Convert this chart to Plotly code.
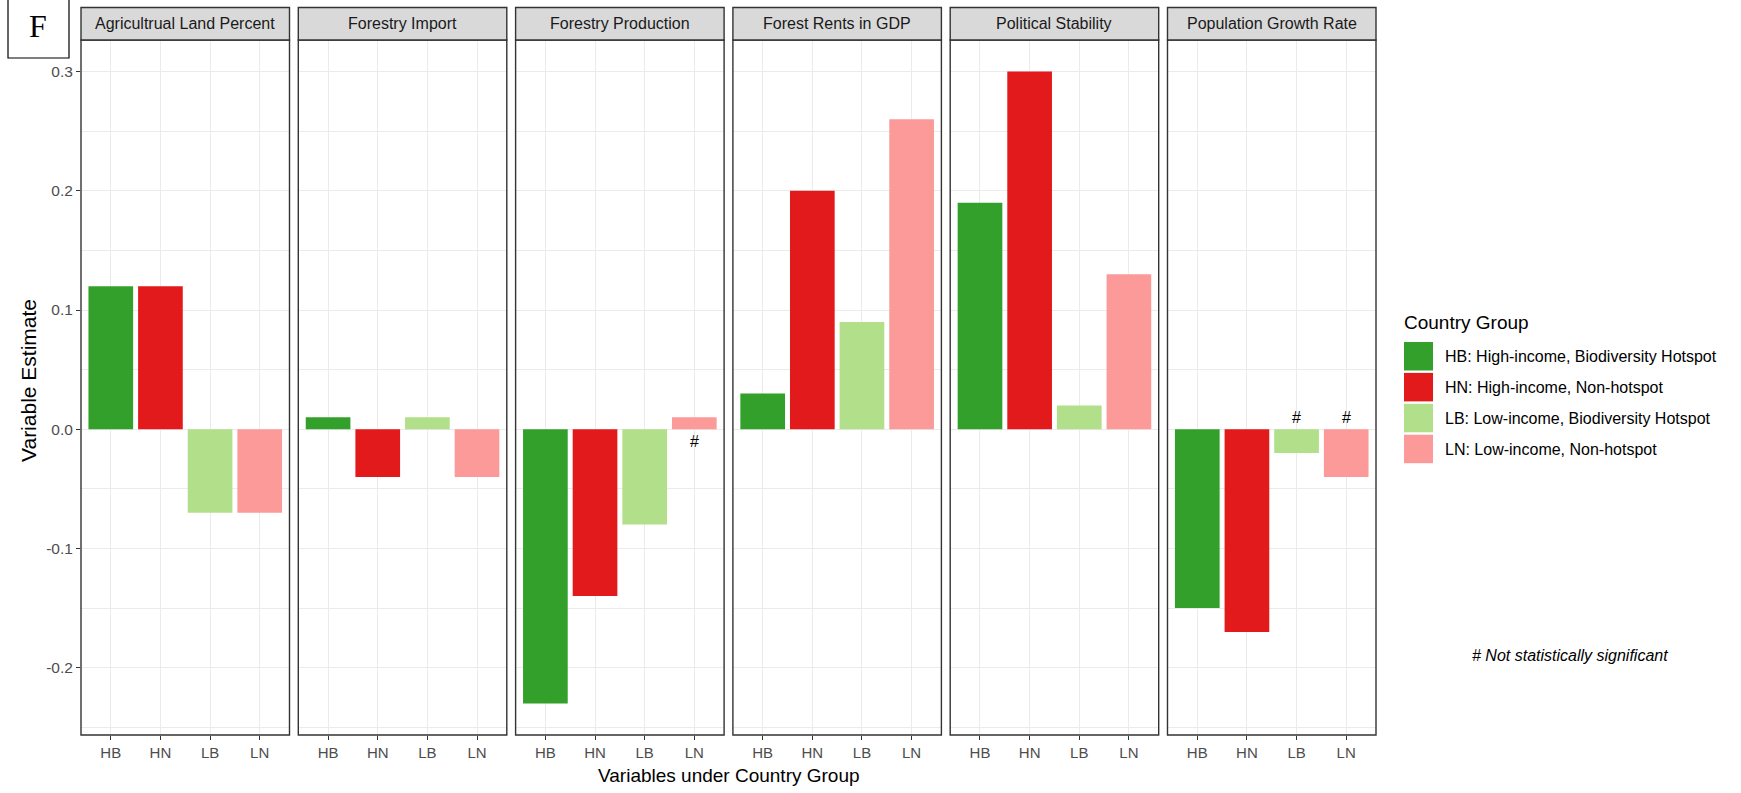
import plotly.graph_objects as go

# ---------------- data ----------------
panels = ["Agricultrual Land Percent", "Forestry Import", "Forestry Production",
          "Forest Rents in GDP", "Political Stability", "Population Growth Rate"]
groups = ["HB", "HN", "LB", "LN"]
group_labels = ["HB: High-income, Biodiversity Hotspot", "HN: High-income, Non-hotspot",
                "LB: Low-income, Biodiversity Hotspot", "LN: Low-income, Non-hotspot"]
hb = [0.12, 0.01, -0.23, 0.03, 0.19, -0.15]
hn = [0.12, -0.04, -0.14, 0.20, 0.30, -0.17]
lb = [-0.07, 0.01, -0.08, 0.09, 0.02, -0.02]
ln = [-0.07, -0.04, 0.01, 0.26, 0.13, -0.04]
not_significant = [("Forestry Production", "LN"),
                   ("Population Growth Rate", "LB"),
                   ("Population Growth Rate", "LN")]
y_tickvals = [-0.2, -0.1, 0.0, 0.1, 0.2, 0.3]
y_ticktext = ["-0.2", "-0.1", "0.0", "0.1", "0.2", "0.3"]

# ---------------- style / layout ----------------
colors = ["#33A02C", "#E31A1C", "#B2DF8A", "#FB9A99"]
FONT = "Liberation Sans, Arial, sans-serif"
W, H = 1741, 793
PX0, PITCH, PW = 81, 217.3, 208.5
PTOP, PBOT, STOP = 40, 735, 7.5

def fx(px):
    return px / W

def fy(py):
    return 1 - py / H

series = [hb, hn, lb, ln]
vals = [[s[i] for s in series] for i in range(len(panels))]

fig = go.Figure()
shapes = []
annotations = []
layout = {}

for i, name in enumerate(panels):
    n = "" if i == 0 else str(i + 1)
    left = PX0 + i * PITCH
    right = left + PW
    fig.add_trace(go.Bar(x=groups, y=vals[i], marker=dict(color=colors, line=dict(width=0)),
                         width=0.9, xaxis="x" + n, yaxis="y" + n, showlegend=False))
    layout["xaxis" + n] = dict(
        domain=[fx(left), fx(right)], anchor="y" + n, type="category",
        categoryorder="array", categoryarray=groups, range=[-0.6, 3.6],
        showgrid=True, gridcolor="#EBEBEB", gridwidth=1.1, zeroline=False,
        showline=False, ticks="outside", ticklen=4, tickwidth=1.1, tickcolor="#333333",
        tickfont=dict(family=FONT, size=15, color="#4D4D4D"), fixedrange=True)
    layout["yaxis" + n] = dict(
        domain=[fy(PBOT), fy(PTOP)], anchor="x" + n, range=[-0.2565, 0.3265],
        tickmode="array", tickvals=y_tickvals, ticktext=y_ticktext,
        showticklabels=(i == 0), ticks="outside" if i == 0 else "",
        ticklen=4, tickwidth=1.1, tickcolor="#333333",
        tickfont=dict(family=FONT, size=15.5, color="#4D4D4D"),
        showgrid=True, gridcolor="#EBEBEB", gridwidth=1.1, zeroline=False, showline=False,
        minor=dict(tickmode="linear", tick0=0.05, dtick=0.1, showgrid=True,
                   gridcolor="#EBEBEB", gridwidth=0.55, ticks=""),
        fixedrange=True)
    # panel border
    shapes.append(dict(type="rect", xref="paper", yref="paper",
                       x0=fx(left), x1=fx(right), y0=fy(PBOT), y1=fy(PTOP),
                       line=dict(color="#333333", width=1.4), fillcolor="rgba(0,0,0,0)"))
    # strip
    shapes.append(dict(type="rect", xref="paper", yref="paper",
                       x0=fx(left), x1=fx(right), y0=fy(PTOP), y1=fy(STOP),
                       line=dict(color="#333333", width=1.4), fillcolor="#D9D9D9"))
    annotations.append(dict(text=name, xref="paper", yref="paper",
                            x=fx((left + right) / 2), y=fy((STOP + PTOP) / 2),
                            xanchor="center", yanchor="middle", showarrow=False,
                            font=dict(family=FONT, size=16, color="#1A1A1A")))
    # significance markers
    for (pn, g) in not_significant:
        if pn == name:
            v = vals[i][groups.index(g)]
            ypos = -0.01 if v > 0 else 0.01
            annotations.append(dict(text="#", x=g, y=ypos, xref="x" + n, yref="y" + n,
                                    xanchor="center", yanchor="middle", showarrow=False,
                                    font=dict(family=FONT, size=16, color="#000000")))

# axis titles
annotations.append(dict(text="Variables under Country Group", xref="paper", yref="paper",
                        x=fx((PX0 + PX0 + 5 * PITCH + PW) / 2), y=fy(775),
                        xanchor="center", yanchor="middle", showarrow=False,
                        font=dict(family=FONT, size=19, color="#000000")))
annotations.append(dict(text="Variable Estimate", xref="paper", yref="paper",
                        x=fx(28), y=fy(381), textangle=-90,
                        xanchor="center", yanchor="middle", showarrow=False,
                        font=dict(family=FONT, size=21, color="#000000")))

# legend (manual, ggplot style)
annotations.append(dict(text="Country Group", xref="paper", yref="paper",
                        x=fx(1402), y=fy(323), xanchor="left", yanchor="middle",
                        showarrow=False, font=dict(family=FONT, size=19, color="#000000")))
for k, lab in enumerate(group_labels):
    top = 342 + k * 30.9
    shapes.append(dict(type="rect", xref="paper", yref="paper",
                       x0=fx(1404), x1=fx(1433), y0=fy(top + 28.5), y1=fy(top),
                       line=dict(width=0), fillcolor=colors[k]))
    annotations.append(dict(text=lab, xref="paper", yref="paper",
                            x=fx(1443), y=fy(top + 14.5), xanchor="left", yanchor="middle",
                            showarrow=False, font=dict(family=FONT, size=16, color="#000000")))

annotations.append(dict(text="<i># Not statistically significant</i>", xref="paper", yref="paper",
                        x=fx(1570), y=fy(655), xanchor="center", yanchor="middle",
                        showarrow=False, font=dict(family=FONT, size=16, color="#000000")))

# panel letter box
shapes.append(dict(type="rect", xref="paper", yref="paper",
                   x0=fx(8), x1=fx(69), y0=fy(58), y1=fy(-2),
                   line=dict(color="#000000", width=1.2), fillcolor="rgba(0,0,0,0)"))
annotations.append(dict(text="F", xref="paper", yref="paper", x=fx(38), y=fy(26),
                        xanchor="center", yanchor="middle", showarrow=False,
                        font=dict(family="Liberation Serif, Times New Roman, serif",
                                  size=32, color="#000000")))

fig.update_layout(width=W, height=H, margin=dict(l=0, r=0, t=0, b=0),
                  paper_bgcolor="white", plot_bgcolor="white", barmode="overlay",
                  showlegend=False, shapes=shapes, annotations=annotations, **layout)

fig.write_html("out.html", config={"displayModeBar": False})
